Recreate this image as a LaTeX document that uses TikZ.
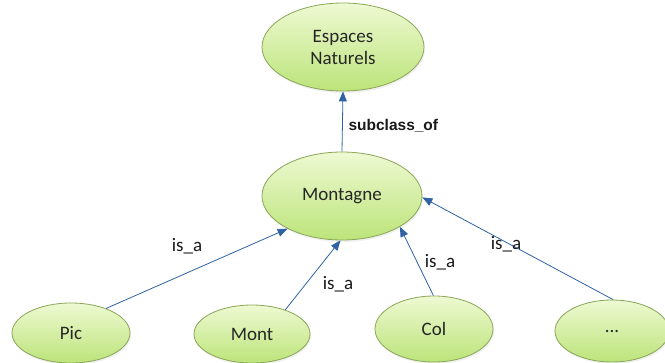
\documentclass[tikz,border=0pt]{standalone}
\usepackage{fontspec}
\setmainfont{Carlito}
\newfontfamily\arialfont{Liberation Sans}
\usetikzlibrary{shapes.geometric,arrows.meta,shadows}

\definecolor{ovaltop}{HTML}{EEF9D2}
\definecolor{ovalbot}{HTML}{BCE47A}
\definecolor{ovaledge}{HTML}{8AA656}
\definecolor{linkblue}{HTML}{2F62A5}

\begin{document}
\begin{tikzpicture}[x=1pt, y=-1pt,
    font=\fontsize{19}{22}\selectfont,
    concept/.style={ellipse, draw=ovaledge, line width=0.8pt, inner sep=0pt,
        top color=ovaltop, bottom color=ovalbot, text=black!85,
        drop shadow={opacity=0.12, shadow xshift=1pt, shadow yshift=-2pt}},
    link/.style={draw=linkblue, line width=0.8pt,
        -{Triangle[length=10pt, width=8pt]}},
    rel/.style={text=black!90}]
    \useasboundingbox (0,0) rectangle (665,363);

    % upper classes
    \node[concept, minimum width=162pt, minimum height=88pt, align=center]
        (espaces) at (343,47) {Espaces\\Naturels};
    \node[concept, minimum width=160pt, minimum height=88pt]
        (montagne) at (342,196) {Montagne};

    % instances
    \node[concept, minimum width=118pt, minimum height=60pt] (pic) at (71,333) {Pic};
    \node[concept, minimum width=116pt, minimum height=58pt] (mont) at (252,334) {Mont};
    \node[concept, minimum width=118pt, minimum height=66pt] (col) at (434,329) {Col};
    \node[concept, minimum width=114pt, minimum height=62pt] (autres) at (612,331) {...};

    % links
    \draw[link] (montagne.north) -- (espaces.south);
    \draw[link] (pic.35) -- (montagne.211);
    \draw[link] (mont.36) -- (montagne.268);
    \draw[link] (col.91) -- (montagne.332);
    \draw[link] (autres.88) -- (montagne.359);

    % labels
    \node[rel, anchor=west, font=\arialfont\bfseries\fontsize{15.5}{18}\selectfont]
        (lsub) at (345,126) {subclass\_of};
    \node[rel] (lpic) at (187,246) {is\_a};
    \node[rel] (lmont) at (338,284) {is\_a};
    \node[rel] (lcol) at (440,262) {is\_a};
    \node[rel] (lautres) at (506,244) {is\_a};
\end{tikzpicture}
\end{document}
